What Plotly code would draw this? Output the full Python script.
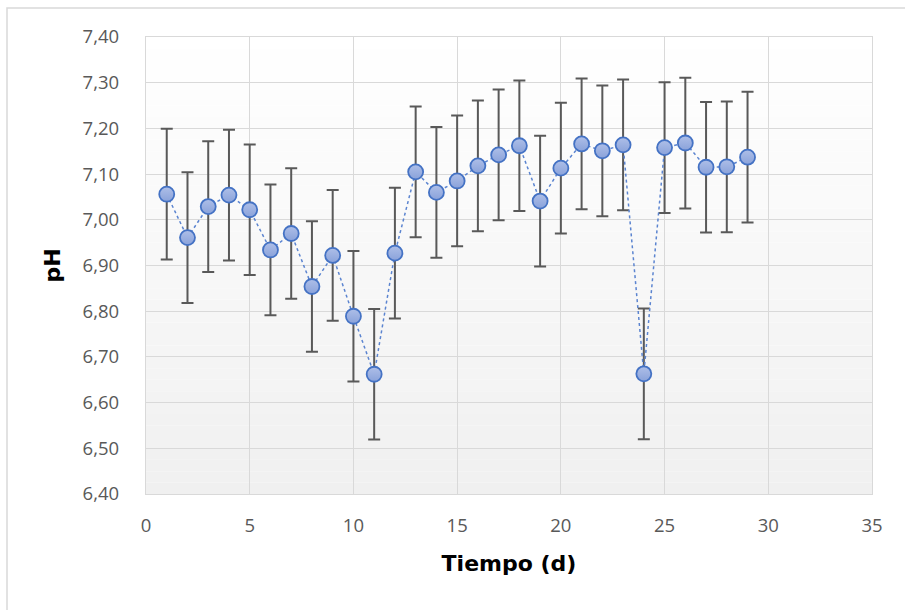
import plotly.graph_objects as go

# pH measured daily, with standard deviation
dias = list(range(1, 30))
ph = [7.056, 6.961, 7.029, 7.054, 7.022, 6.934, 6.970, 6.854, 6.922, 6.789,
      6.662, 6.927, 7.105, 7.060, 7.085, 7.118, 7.142, 7.162, 7.041, 7.113,
      7.166, 7.151, 7.164, 6.663, 7.158, 7.168, 7.115, 7.116, 7.137]
desv = [0.143] * 29

x_ticks = [0, 5, 10, 15, 20, 25, 30, 35]
y_ticks = [6.40, 6.50, 6.60, 6.70, 6.80, 6.90, 7.00, 7.10, 7.20, 7.30, 7.40]

GRID = "#D9D9D9"
TICK_FONT = dict(family="Open Sans", size=18.5, color="#595959")
TITLE_FONT = dict(family="DejaVu Sans", size=22, color="#000000")

fig = go.Figure()

fig.add_trace(go.Scatter(
    x=dias, y=ph,
    mode="lines+markers",
    line=dict(color="#5B84D0", width=1.5, dash="dot"),
    marker=dict(
        size=15, symbol="circle",
        color="#AEBFE8",
        gradient=dict(type="vertical", color="#8AA2DA"),
        line=dict(color="#4472C4", width=1.8),
    ),
    error_y=dict(type="data", array=desv, visible=True,
                 color="#595959", thickness=2, width=6),
    showlegend=False,
))

# soft vertical gradient in the plotting area (white at top, light grey at bottom)
n_bands = 40
shapes = []
for i in range(n_bands):
    t = (i + 0.5) / n_bands
    g = round(255 - 15 * (1 - t))
    shapes.append(dict(
        type="rect", xref="x domain", yref="y domain",
        x0=0, x1=1, y0=i / n_bands, y1=(i + 1) / n_bands,
        fillcolor=f"rgb({g},{g},{g})", line=dict(width=0), layer="below",
    ))

# outer chart frame
shapes.append(dict(
    type="rect", xref="paper", yref="paper",
    x0=-146 / 726 + 7 / 726, x1=-146 / 726 + 910 / 726,
    y0=(494 - 620) / 457, y1=(494 - 8) / 457,
    line=dict(color=GRID, width=1.5), fillcolor="rgba(0,0,0,0)", layer="below",
))

fig.update_layout(
    width=905, height=610,
    margin=dict(l=146, r=33, t=37, b=116),
    paper_bgcolor="white",
    plot_bgcolor="white",
    separators=",.",
    shapes=shapes,
    xaxis=dict(
        range=[0, 35], tickvals=x_ticks,
        showgrid=True, gridcolor=GRID, gridwidth=1.3,
        zeroline=False, showline=True, linecolor=GRID, linewidth=1.3, mirror=True,
        ticks="", tickfont=TICK_FONT, ticklabelstandoff=15,
        title=dict(text="<b>Tiempo (d)</b>", font=TITLE_FONT, standoff=19),
    ),
    yaxis=dict(
        range=[6.40, 7.40], tickvals=y_ticks, tickformat=".2f",
        showgrid=True, gridcolor=GRID, gridwidth=1.3,
        zeroline=False, showline=True, linecolor=GRID, linewidth=1.3, mirror=True,
        ticks="", tickfont=TICK_FONT, ticklabelstandoff=22,
        title=dict(text="<b>pH</b>", font=TITLE_FONT, standoff=15),
    ),
)

fig.write_html("out.html")
